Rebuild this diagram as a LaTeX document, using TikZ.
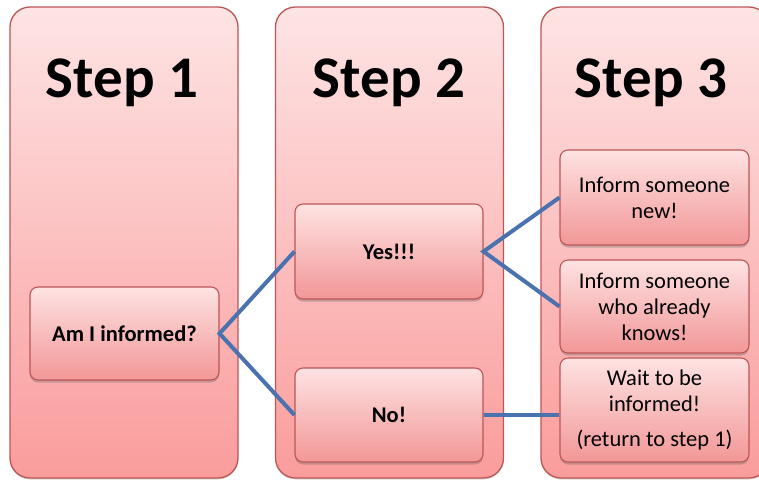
\documentclass[tikz,border=0pt]{standalone}
\usepackage{fontspec}
\setmainfont{Carlito}
\usetikzlibrary{shadows}
\definecolor{colborder}{HTML}{BC5656}
\definecolor{coltop}{HTML}{FEE4E4}
\definecolor{colbot}{HTML}{FA9C9C}
\definecolor{boxtop}{HTML}{FEE2E2}
\definecolor{boxbot}{HTML}{F29797}
\definecolor{linkblue}{HTML}{4A72AE}
\tikzset{
  column/.style={draw=colborder, line width=1.3pt, rounded corners=20pt,
    top color=coltop, bottom color=colbot, minimum width=228pt, minimum height=471pt, inner sep=0pt,
    drop shadow={shadow xshift=0pt, shadow yshift=-1.5pt, opacity=0.25, fill=black!60}},
  title/.style={font=\fontsize{59}{61}\selectfont\bfseries, anchor=base},
  stepbox/.style={draw=colborder, line width=1.1pt, rounded corners=8pt,
    top color=boxtop, bottom color=boxbot, minimum width=189pt, inner sep=2pt,
    align=center, font=\fontsize{22.5}{26}\selectfont,
    drop shadow={shadow xshift=0pt, shadow yshift=-2.5pt, opacity=0.35, fill=black!60}},
  boldbox/.style={stepbox, font=\fontsize{22.5}{26}\selectfont\bfseries},
  link/.style={draw=linkblue, line width=4pt}
}
\begin{document}
\begin{tikzpicture}[x=1pt,y=-1pt]
\fill[white] (0,0) rectangle (759,480);
\clip (0,0) rectangle (759,480);
\node[column] (col1) at (124,242.5) {};
\node[column] (col2) at (389.5,242.5) {};
\node[column] (col3) at (655,242.5) {};
\node[title] (t1) at (122,97) {Step 1};
\node[title] (t2) at (389,97) {Step 2};
\node[title] (t3) at (651,97) {Step 3};
\node[boldbox, minimum height=93pt] (q) at (124.5,333.5) {Am I informed?};
\node[boldbox, minimum height=95pt, minimum width=188pt] (yes) at (389,251.5) {Yes!!!};
\node[boldbox, minimum height=94pt, minimum width=188pt] (no) at (389,415) {No!};
\node[stepbox, minimum height=95pt] (new) at (654.5,197.5) {Inform someone\\new!};
\node[stepbox, minimum height=93pt] (knows) at (654.5,306.5) {Inform someone\\who already\\knows!};
\node[stepbox, minimum height=104pt] (wait) at (654.5,410) {Wait to be\\informed!\\[9pt](return to step 1)};
\draw[link] (yes.west) -- (q.east) -- (no.west);
\draw[link] (new.west) -- (yes.east) -- (knows.west);
\draw[link] (no.east) -- (no.east -| wait.west);
\end{tikzpicture}
\end{document}
